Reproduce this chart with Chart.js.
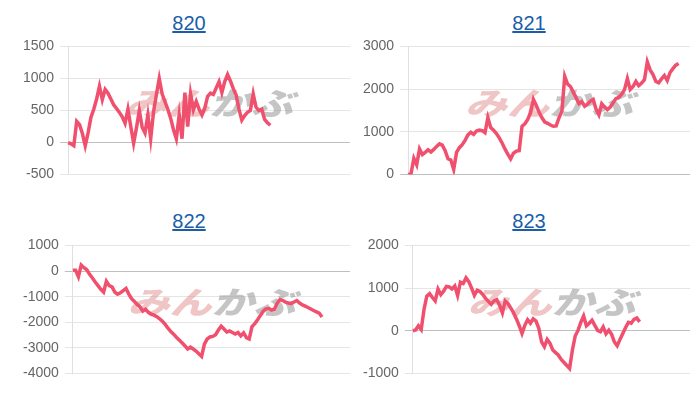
<!DOCTYPE html>
<html lang="ja">
<head>
<meta charset="UTF-8">
<title>820 - 823</title>
<script src="https://cdn.jsdelivr.net/npm/chart.js@4.4.0/dist/chart.umd.min.js"></script>
<style>
    body { margin: 0; width: 700px; height: 400px; background: #fff; position: relative; overflow: hidden;
           font-family: Arial, "Liberation Sans", sans-serif; }
    .title { position: absolute; width: 80px; text-align: center; font-size: 20px; }
    .title a { color: #1a5ea8; text-decoration: underline; }
    canvas { position: absolute; }
</style>
</head>
<body>
<div class="title" style="left:149px; top:12px;"><a href="#">820</a></div>
<div class="title" style="left:489px; top:12px;"><a href="#">821</a></div>
<div class="title" style="left:149px; top:210px;"><a href="#">822</a></div>
<div class="title" style="left:489px; top:210px;"><a href="#">823</a></div>

<canvas id="c820" width="350" height="157" style="left:0px; top:32px;"></canvas>
<canvas id="c821" width="350" height="157" style="left:340px; top:32px;"></canvas>
<canvas id="c822" width="350" height="157" style="left:0px; top:231px;"></canvas>
<canvas id="c823" width="350" height="157" style="left:340px; top:231px;"></canvas>

<script>
// hidden x axis: 100 slots, series fill part of it
const dayLabels = Array.from({ length: 100 }, (_, i) => String(i + 1));

const values820 = [0, -20, -50, 330, 280, 140, -50, 150, 390, 520,
    680, 880, 670, 830, 770, 680, 590, 530, 470, 400,
    300, 520, 250, -10, 230, 500, 240, 150, 430, 60,
    480, 750, 1000, 760, 640, 520, 380, 200, 60, 430,
    60, 780, 250, 760, 510, 640, 520, 430, 540, 720,
    770, 750, 850, 950, 780, 950, 1060, 960, 840, 740,
    520, 350, 420, 470, 500, 760, 550, 500, 520, 360,
    310, 270];

const values821 = [0, 20, 380, 230, 600, 470, 520, 580, 530, 590,
    660, 720, 690, 560, 370, 340, 120, 520, 630, 700,
    800, 930, 990, 940, 1020, 1040, 1030, 980, 1330, 1100,
    1040, 960, 860, 740, 600, 480, 370, 500, 550, 560,
    1130, 1190, 1290, 1450, 1760, 1620, 1460, 1330, 1230, 1200,
    1160, 1130, 1140, 1330, 1480, 2300, 2120, 2060, 1930, 1800,
    1660, 1710, 1600, 1650, 1720, 1760, 1530, 1400, 1660, 1580,
    1520, 1580, 1680, 1780, 1810, 1880, 1990, 2250, 1990, 2060,
    2180, 2080, 2140, 2220, 2640, 2450, 2340, 2180, 2150, 2240,
    2320, 2200, 2390, 2480, 2560, 2600];

const values822 = [30, 30, -220, 230, 130, 50, -130, -270, -430, -570,
    -710, -820, -400, -570, -620, -820, -900, -850, -760, -680,
    -900, -1080, -1190, -1300, -1400, -1560, -1490, -1610, -1680, -1720,
    -1780, -1860, -1960, -2080, -2230, -2360, -2460, -2580, -2690, -2800,
    -2910, -3040, -2970, -3040, -3120, -3230, -3330, -2850, -2650, -2570,
    -2550, -2480, -2300, -2150, -2260, -2380, -2340, -2400, -2460, -2400,
    -2530, -2410, -2600, -2650, -2170, -2050, -1900, -1730, -1570, -1480,
    -1460, -1520, -1490, -1250, -1110, -1150, -1210, -1250, -1270, -1210,
    -1150, -1250, -1320, -1370, -1420, -1480, -1540, -1590, -1640, -1790];

const values823 = [0, 20, 120, 30, 500, 810, 870, 780, 700, 980,
    850, 930, 1040, 1030, 980, 1050, 830, 1140, 1110, 1240,
    1150, 1000, 830, 950, 920, 850, 760, 690, 620, 700,
    730, 600, 420, 700, 640, 530, 420, 280, 120, -60,
    130, 260, 180, 280, 230, 60, -260, -370, -200, -290,
    -450, -510, -570, -670, -740, -810, -880, -450, -120, 10,
    200, 350, 120, 180, 250, 130, 10, -20, 90, -70,
    15, -80, -260, -350, -200, -60, 80, 200, 180, 270,
    300, 210];

// y axis ranges [min, max, step]
const range820 = [-500, 1500, 500];
const range821 = [0, 3000, 1000];
const range822 = [-4000, 1000, 1000];
const range823 = [-1000, 2000, 1000];

const LINE_COLOR = '#f0506e';

// watermark behind the line (squashed a bit to look like the logo)
const watermark = {
    id: 'watermark',
    beforeDatasetsDraw(chart) {
        const { ctx, chartArea } = chart;
        const cx = (chartArea.left + chartArea.right) / 2;
        const cy = (chartArea.top + chartArea.bottom) / 2 - 7;
        ctx.save();
        ctx.translate(cx, cy);
        ctx.scale(1.05, 0.78);
        ctx.font = 'italic 900 40px "Noto Sans CJK JP"';
        ctx.textBaseline = 'middle';
        const w1 = ctx.measureText('みん').width;
        const w2 = ctx.measureText('かぶ').width;
        const x = -(w1 + w2) / 2;
        ctx.fillStyle = 'rgba(225, 140, 140, 0.5)';
        ctx.fillText('みん', x, 0);
        ctx.fillStyle = 'rgba(150, 150, 150, 0.55)';
        ctx.fillText('かぶ', x + w1, 0);
        ctx.restore();
    }
};

function makeChart(id, values, range) {
    new Chart(document.getElementById(id), {
        type: 'line',
        data: {
            labels: dayLabels,
            datasets: [{
                data: values,
                borderColor: LINE_COLOR,
                backgroundColor: LINE_COLOR,
                borderWidth: 3.5,
                pointRadius: 0,
                tension: 0,
                fill: false
            }]
        },
        options: {
            responsive: false,
            animation: false,
            layout: { padding: { top: 0, bottom: 0, left: 17, right: 0 } },
            plugins: { legend: { display: false }, tooltip: { enabled: false } },
            scales: {
                x: { display: false },
                y: {
                    min: range[0],
                    max: range[1],
                    ticks: {
                        stepSize: range[2],
                        padding: 6,
                        color: '#666',
                        font: { family: 'Arial', size: 14 },
                        callback: v => String(v)
                    },
                    grid: {
                        color: c => c.tick && c.tick.value === 0 ? 'rgba(0,0,0,0.25)' : 'rgba(0,0,0,0.1)'
                    },
                    border: { color: 'rgba(0,0,0,0.12)' }
                }
            }
        },
        plugins: [watermark]
    });
}

makeChart('c820', values820, range820);
makeChart('c821', values821, range821);
makeChart('c822', values822, range822);
makeChart('c823', values823, range823);
</script>
</body>
</html>
